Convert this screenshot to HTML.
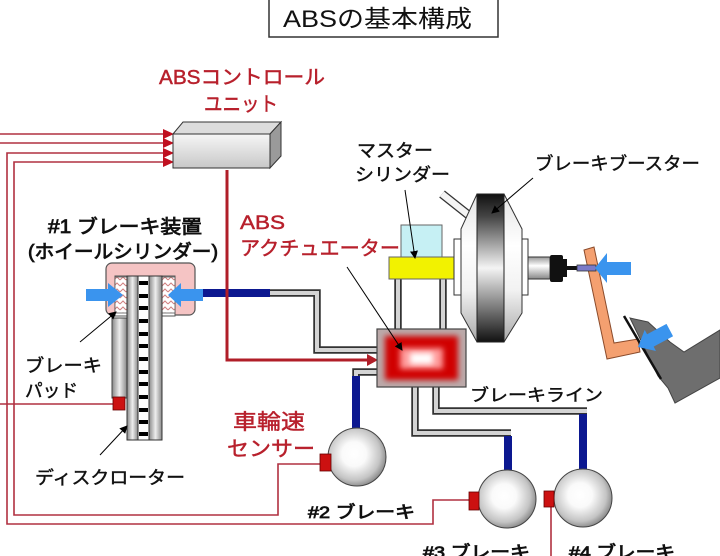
<!DOCTYPE html>
<html><head><meta charset="utf-8"><style>
html,body{margin:0;padding:0;background:#fff;}
svg{display:block;}
text{font-family:"Liberation Sans","Noto Sans CJK JP",sans-serif;}
</style></head><body>
<svg width="720" height="556" viewBox="0 0 720 556" xmlns="http://www.w3.org/2000/svg">
<defs>
<radialGradient id="sph" cx="0.45" cy="0.45" r="0.6">
<stop offset="0" stop-color="#fff"/><stop offset="0.35" stop-color="#fafafa"/><stop offset="0.75" stop-color="#c4c4c4"/><stop offset="1" stop-color="#7a7a7a"/>
</radialGradient>
<linearGradient id="cuF" x1="0" y1="0" x2="0" y2="1"><stop offset="0" stop-color="#f6f6f6"/><stop offset="1" stop-color="#c8c8c8"/></linearGradient>
<linearGradient id="band" x1="0" y1="0" x2="0" y2="1"><stop offset="0" stop-color="#111"/><stop offset="0.15" stop-color="#444"/><stop offset="0.5" stop-color="#f4f4f4"/><stop offset="0.85" stop-color="#555"/><stop offset="1" stop-color="#111"/></linearGradient>
<linearGradient id="body" x1="0" y1="0" x2="0" y2="1"><stop offset="0" stop-color="#e4e4e4"/><stop offset="0.35" stop-color="#fff"/><stop offset="0.65" stop-color="#f2f2f2"/><stop offset="1" stop-color="#a8a8a8"/></linearGradient>
<linearGradient id="plate" x1="0" y1="0" x2="1" y2="0"><stop offset="0" stop-color="#888"/><stop offset="0.5" stop-color="#eee"/><stop offset="1" stop-color="#888"/></linearGradient>
<linearGradient id="rod" x1="0" y1="0" x2="0" y2="1"><stop offset="0" stop-color="#999"/><stop offset="0.4" stop-color="#fff"/><stop offset="1" stop-color="#888"/></linearGradient>
<filter id="bl" x="-30%" y="-30%" width="160%" height="160%"><feGaussianBlur stdDeviation="3"/></filter>
<marker id="ah" markerWidth="8" markerHeight="8" refX="7" refY="4" orient="auto" markerUnits="userSpaceOnUse"><path d="M0,0 L8,4 L0,8 z" fill="#000"/></marker>
<pattern id="hatch" width="6" height="6" patternUnits="userSpaceOnUse"><rect width="6" height="6" fill="#fff"/><path d="M0,4 L3,1 L6,4" fill="none" stroke="#d08080" stroke-width="1"/></pattern>
</defs>

<!-- title -->
<rect x="269" y="-2" width="229" height="39" fill="#fff" stroke="#333" stroke-width="1.5"/>
<text x="283" y="27" font-size="24" textLength="189" lengthAdjust="spacingAndGlyphs" fill="#111">ABSの基本構成</text>

<!-- red wires -->
<g fill="none" stroke="#b03040" stroke-width="1.6">
<path d="M0,134 H166"/><path d="M0,143 H166"/>
<path d="M166,153 H7 V524 H433 V500 H469"/>
<path d="M166,162 H14 V515 H278 V464 H320"/>
<path d="M0,404 H113"/>
<path d="M551,507 V556"/>
</g>
<g fill="#c01020">
<path d="M163,129 L174,134 L163,139z"/><path d="M163,138 L174,143 L163,148z"/>
<path d="M163,148 L174,153 L163,158z"/><path d="M163,157 L174,162 L163,167z"/>
</g>

<!-- control unit -->
<path d="M173,134 L183,122 L281,122 L270,134z" fill="#dcdcdc" stroke="#333" stroke-width="1"/>
<path d="M270,134 L281,122 L281,156 L270,168z" fill="#9a9a9a" stroke="#333" stroke-width="1"/>
<rect x="173" y="134" width="97" height="34" fill="url(#cuF)" stroke="#333" stroke-width="1"/>
<g fill="#b8202c" stroke="#b8202c" stroke-width="0.45">
<text x="159" y="84" font-size="20" textLength="166" lengthAdjust="spacingAndGlyphs">ABSコントロール</text>
<text x="204" y="111" font-size="20" textLength="74" lengthAdjust="spacingAndGlyphs">ユニット</text>
</g>

<!-- control to actuator -->
<path d="M227,170 V360 H370" fill="none" stroke="#b01e28" stroke-width="3"/>
<path d="M367,354 L378,360 L367,366z" fill="#b01e28"/>

<!-- gray pipes -->
<g fill="none" stroke="#333" stroke-width="7.5">
<path d="M270,293 H317 V350 H377"/>
<path d="M398,279 V330"/><path d="M443,279 V330"/>
<path d="M377,372 H356 V378"/>
<path d="M415,387 V433 H511"/>
<path d="M436,387 V411 H587"/>
</g>
<g fill="none" stroke="#d4d4d4" stroke-width="4">
<path d="M270,293 H317 V350 H377"/>
<path d="M398,279 V330"/><path d="M443,279 V330"/>
<path d="M377,372 H356 V378"/>
<path d="M415,387 V433 H511"/>
<path d="M436,387 V411 H587"/>
</g>
<!-- blue pipes -->
<g stroke="#0c1890" stroke-width="8" fill="none">
<path d="M202,293 H270"/>
<path d="M356,376 V430"/>
<path d="M508,436 V472"/>
<path d="M583,414 V471"/>
</g>
<path d="M227,285 V302" stroke="#b01e28" stroke-width="3"/>

<!-- actuator -->
<rect x="377" y="329" width="89" height="58" fill="#bba9a9" stroke="#444" stroke-width="1.2"/>
<rect x="385" y="336" width="73" height="44" fill="#d00000" filter="url(#bl)"/>
<rect x="400" y="348" width="43" height="21" fill="#ff9a9a" filter="url(#bl)"/>
<rect x="410" y="353" width="23" height="11" fill="#fff" filter="url(#bl)"/>

<!-- master cylinder -->
<rect x="401" y="225" width="41" height="32" fill="#c6f0f4" stroke="#666" stroke-width="1"/>
<rect x="389" y="257" width="65" height="22" fill="#f2f200" stroke="#666" stroke-width="1"/>

<!-- booster -->
<path d="M442,194 L471,217" stroke="#333" stroke-width="9"/>
<path d="M442,194 L471,217" stroke="#f4f4f4" stroke-width="6.5"/>
<rect x="454" y="239" width="8" height="56" fill="#fff" stroke="#333" stroke-width="1"/>
<rect x="521" y="239" width="7" height="56" fill="#fff" stroke="#333" stroke-width="1"/>
<path d="M477,194 L504,194 L522,229 L522,313 L504,342 L477,342 L461,313 L461,229z" fill="url(#body)" stroke="#333" stroke-width="1"/>
<rect x="477" y="194" width="27" height="148" fill="url(#band)" stroke="#222" stroke-width="1"/>
<rect x="528" y="257" width="22" height="22" fill="url(#rod)" stroke="#333" stroke-width="1"/>
<rect x="550" y="255" width="13" height="27" fill="#111" rx="2"/>
<rect x="563" y="259" width="4" height="18" fill="#111"/>
<rect x="566" y="266" width="12" height="4" fill="#111"/>

<!-- pedal -->
<path d="M584,250 L594,247 L614,343 L638,339 L640,352 L607,359z" fill="#f4a070" stroke="#8b4b2b" stroke-width="1"/>
<rect x="577" y="265" width="19" height="6" fill="#7a7ac8" stroke="#333" stroke-width="0.8"/>
<path d="M595,268 L607,253 L607,262 L631,262 L631,275 L607,275 L607,283z" fill="#3a94ee"/>
<!-- foot -->
<path d="M630,318 L648,322 L670,342 L684,352 L720,330 L720,378 L675,403 L668,388 L658,376z" fill="#6e6e6e" stroke="#444" stroke-width="1"/>
<path d="M624,316 L661,379" stroke="#111" stroke-width="2.5"/>
<g transform="translate(638,347) rotate(-28)">
<path d="M0,0 L14,-12 L14,-7 L36,-7 L36,7 L14,7 L14,12z" fill="#3a94ee"/>
</g>

<!-- wheel #1 -->
<rect x="112" y="318" width="15" height="80" fill="url(#plate)" stroke="#444" stroke-width="1"/>
<rect x="113" y="397" width="12" height="13" fill="#cc1111" stroke="#600" stroke-width="0.8"/>
<rect x="106" y="263" width="89" height="52" rx="6" fill="#f5c4c4" stroke="#555" stroke-width="1.2"/>
<rect x="115" y="276" width="60" height="40" fill="#fff" stroke="#555" stroke-width="1"/>
<rect x="115" y="277" width="13" height="36" fill="url(#hatch)" stroke="#555" stroke-width="0.8"/>
<rect x="162" y="277" width="13" height="36" fill="url(#hatch)" stroke="#555" stroke-width="0.8"/>
<rect x="127" y="276" width="11" height="164" fill="url(#plate)" stroke="#333" stroke-width="1"/>
<rect x="138" y="276" width="11" height="164" fill="#fff" stroke="#333" stroke-width="1"/>
<rect x="149" y="276" width="13" height="164" fill="url(#plate)" stroke="#333" stroke-width="1"/>
<g fill="#000">
<rect x="139" y="281" width="9" height="4"/><rect x="139" y="294" width="9" height="4"/><rect x="139" y="306" width="9" height="4"/><rect x="139" y="319" width="9" height="4"/><rect x="139" y="332" width="9" height="4"/><rect x="139" y="344" width="9" height="4"/><rect x="139" y="357" width="9" height="4"/><rect x="139" y="370" width="9" height="4"/><rect x="139" y="382" width="9" height="4"/><rect x="139" y="395" width="9" height="4"/><rect x="139" y="408" width="9" height="4"/><rect x="139" y="420" width="9" height="4"/><rect x="139" y="432" width="9" height="4"/>
</g>
<path d="M123,295 L108,283 L108,289 L86,289 L86,301 L108,301 L108,307z" fill="#3a94ee"/>
<path d="M168,295 L181,283 L181,289 L203,289 L203,301 L181,301 L181,307z" fill="#3a94ee"/>

<!-- spheres -->
<circle cx="357" cy="457" r="29" fill="url(#sph)" stroke="#444" stroke-width="1"/>
<circle cx="507" cy="499" r="29" fill="url(#sph)" stroke="#444" stroke-width="1"/>
<circle cx="583" cy="498" r="29" fill="url(#sph)" stroke="#444" stroke-width="1"/>
<rect x="320" y="454" width="11" height="17" fill="#cc1111" stroke="#600" stroke-width="0.8"/>
<rect x="469" y="492" width="10" height="18" fill="#cc1111" stroke="#600" stroke-width="0.8"/>
<rect x="544" y="491" width="10" height="16" fill="#cc1111" stroke="#600" stroke-width="0.8"/>

<!-- pointer arrows -->
<g stroke="#000" stroke-width="1" fill="none" marker-end="url(#ah)">
<path d="M347,267 L402,350"/>
<path d="M405,190 L415,258"/>
<path d="M533,178 L492,213"/>
<path d="M80,342 L116,312"/>
<path d="M100,455 L127,426"/>
</g>

<!-- labels -->
<g fill="#111" stroke="#111" stroke-width="0.45">
<text x="357" y="157" font-size="18" textLength="76" lengthAdjust="spacingAndGlyphs">マスター</text>
<text x="355" y="181" font-size="18" textLength="95" lengthAdjust="spacingAndGlyphs">シリンダー</text>
<text x="535" y="170" font-size="18" textLength="165" lengthAdjust="spacingAndGlyphs">ブレーキブースター</text>
<text x="25" y="372" font-size="18" textLength="77" lengthAdjust="spacingAndGlyphs">ブレーキ</text>
<text x="25" y="397" font-size="18" textLength="53" lengthAdjust="spacingAndGlyphs">パッド</text>
<text x="35" y="484" font-size="18" textLength="150" lengthAdjust="spacingAndGlyphs">ディスクローター</text>
<text x="470" y="401" font-size="17" textLength="133" lengthAdjust="spacingAndGlyphs">ブレーキライン</text>
</g>
<g fill="#111" stroke="#111" stroke-width="0.8">
<text x="48" y="233" font-size="19" textLength="154" lengthAdjust="spacingAndGlyphs">#1 ブレーキ装置</text>
<text x="28" y="258" font-size="19" textLength="190" lengthAdjust="spacingAndGlyphs">(ホイールシリンダー)</text>
<text x="308" y="518" font-size="17" textLength="107" lengthAdjust="spacingAndGlyphs">#2 ブレーキ</text>
<text x="423" y="558" font-size="17" textLength="107" lengthAdjust="spacingAndGlyphs">#3 ブレーキ</text>
<text x="569" y="558" font-size="17" textLength="106" lengthAdjust="spacingAndGlyphs">#4 ブレーキ</text>
</g>
<g fill="#b8202c" stroke="#b8202c" stroke-width="0.45">
<text x="240" y="229" font-size="19" textLength="45" lengthAdjust="spacingAndGlyphs">ABS</text>
<text x="240" y="255" font-size="20" textLength="160" lengthAdjust="spacingAndGlyphs">アクチュエーター</text>
<text x="233" y="429" font-size="21" textLength="72" lengthAdjust="spacingAndGlyphs">車輪速</text>
<text x="227" y="456" font-size="21" textLength="88" lengthAdjust="spacingAndGlyphs">センサー</text>
</g>
</svg>
</body></html>
